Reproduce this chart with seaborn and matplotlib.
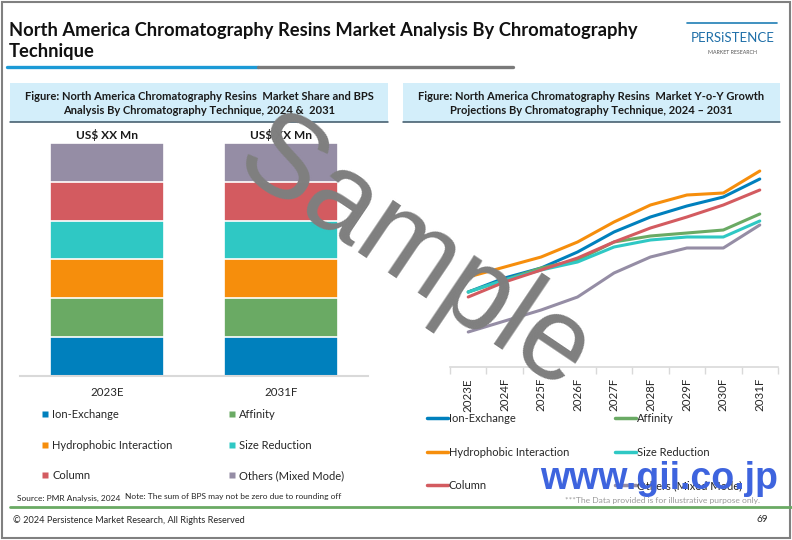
import numpy as np
import pandas as pd
import matplotlib.pyplot as plt
import seaborn as sns
from matplotlib.lines import Line2D
from matplotlib.patches import Rectangle

# ===============================
# DATA
# ===============================

segments = ["Ion-Exchange", "Affinity", "Hydrophobic Interaction",
            "Size Reduction", "Column", "Others (Mixed Mode)"]
seg_colors = ["#0080BD", "#6AAA64", "#F68E0C", "#2FC8C4", "#D35B60", "#958DA5"]

bar_years = ["2023E", "2031F"]
share_2023 = [16.7, 16.7, 16.6, 16.7, 16.6, 16.7]
share_2031 = [16.7, 16.7, 16.6, 16.7, 16.6, 16.7]

line_years = ["2023E", "2024F", "2025F", "2026F", "2027F",
              "2028F", "2029F", "2030F", "2031F"]
ion_exchange = [75, 89, 99, 115, 135, 150, 161, 170, 188]
affinity = [75, 87, 99, 107, 125, 131, 134, 137, 153]
hydrophobic = [90, 100, 110, 125, 145, 162, 172, 174, 196]
size_reduction = [75, 87, 97, 105, 120, 127, 130, 130, 146]
column = [70, 85, 97, 109, 125, 139, 150, 162, 177]
others = [35, 46, 57, 70, 94, 110, 119, 119, 142]

W, H = 792, 540


def box(l, t, r, b):
    return [l / W, 1 - b / H, (r - l) / W, (b - t) / H]


def fx(px):
    return px / W


def fy(py):
    return 1 - py / H


sns.set_theme(style="white")
plt.rcParams["font.family"] = ["Lato", "DejaVu Sans"]

fig = plt.figure(figsize=(7.92, 5.4), dpi=100)
fig.patch.set_facecolor("white")

# ===============================
# PAGE FRAME / TITLE
# ===============================

fig.patches.append(Rectangle((0.002, 0.003), 0.996, 0.994, transform=fig.transFigure,
                             fill=False, edgecolor="#808080", linewidth=1.5))

fig.text(fx(9), fy(31), "North America Chromatography Resins Market Analysis By Chromatography",
         fontsize=13.2, fontweight="bold", color="#111111", va="center", ha="left")
fig.text(fx(9), fy(52), "Technique",
         fontsize=13.2, fontweight="bold", color="#111111", va="center", ha="left")

fig.add_artist(Line2D([fx(7), fx(258)], [fy(67), fy(67)], color="#1B9AD6", lw=2.4))
fig.add_artist(Line2D([fx(258), fx(513)], [fy(67), fy(67)], color="#7A7A7A", lw=2.4))

# logo
fig.add_artist(Line2D([fx(687), fx(777)], [fy(23), fy(23)], color="#1F7EB5", lw=1.2))
fig.text(fx(733), fy(38), "PERSiSTENCE", fontsize=9.5, color="#1F6FA8",
         ha="center", va="center")
fig.text(fx(733), fy(52), "MARKET RESEARCH", fontsize=3.8, color="#555555",
         ha="center", va="center")

# panel headers
for l, r, lines in [(10, 388, ["Figure: North America Chromatography Resins  Market Share and BPS",
                               "Analysis By Chromatography Technique, 2024 &  2031"]),
                    (403, 780, ["Figure: North America Chromatography Resins  Market Y-o-Y Growth",
                                "Projections By Chromatography Technique, 2024 \u2013 2031"])]:
    fig.patches.append(Rectangle((fx(l), fy(122)), (r - l) / W, 39 / H, transform=fig.transFigure,
                                 facecolor="#D3EEFA", edgecolor="none"))
    fig.add_artist(Line2D([fx(l), fx(r)], [fy(122), fy(122)], color="#3B5566", lw=1.1))
    cx = (l + r) / 2
    fig.text(fx(cx), fy(96), lines[0], fontsize=8.0, fontweight="bold", color="#1A1A1A",
             ha="center", va="center")
    fig.text(fx(cx), fy(110), lines[1], fontsize=8.0, fontweight="bold", color="#1A1A1A",
             ha="center", va="center")

# ===============================
# STACKED BAR CHART
# ===============================

ax1 = fig.add_axes(box(20, 130, 368, 375.7))
shares = np.array([share_2023, share_2031])
cum = np.cumsum(shares, axis=1)

for i in range(len(segments) - 1, -1, -1):
    sns.barplot(x=bar_years, y=cum[:, i], color=seg_colors[i], saturation=1,
                width=0.66, edgecolor="white", linewidth=1.2, errorbar=None, ax=ax1)

ax1.set_xlim(-0.5, 1.5)
ax1.set_ylim(0, 105.6)
ax1.set_yticks([])
for s in ["top", "left", "right"]:
    ax1.spines[s].set_visible(False)
ax1.spines["bottom"].set_color("#D9D9D9")
ax1.spines["bottom"].set_linewidth(1.5)
ax1.tick_params(axis="x", length=0, pad=8, labelsize=8.3, labelcolor="#262626")
ax1.set_xlabel("")
ax1.set_ylabel("")
for i in range(len(bar_years)):
    ax1.text(i, cum[i, -1] + 1.0, "US$ XX Mn", ha="center", va="bottom",
             fontsize=8.6, fontweight="bold", color="#1A1A1A")

col1 = [0, 2, 4]
col2 = [1, 3, 5]
for cols, x0 in [(col1, 41), (col2, 228)]:
    hs = [Line2D([], [], marker="s", linestyle="none", markersize=4.5,
                 markerfacecolor=seg_colors[k], markeredgecolor="none") for k in cols]
    fig.legend(hs, [segments[k] for k in cols], frameon=False, loc="upper left",
               bbox_to_anchor=(fx(x0), fy(409)), fontsize=8.0, borderpad=0,
               borderaxespad=0, labelspacing=1.77, handlelength=0.75, handletextpad=0.25,
               labelcolor="#262626")

# ===============================
# LINE CHART
# ===============================

series_values = [ion_exchange, affinity, hydrophobic, size_reduction, column, others]
line_df = pd.DataFrame({
    "year": line_years * len(segments),
    "value": np.concatenate(series_values),
    "series": np.repeat(segments, len(line_years)),
})

ax2 = fig.add_axes(box(450, 130, 778, 367))
sns.lineplot(data=line_df, x="year", y="value", hue="series", hue_order=segments,
             palette=dict(zip(segments, seg_colors)), linewidth=2.2, sort=False,
             legend=False, ax=ax2)
ax2.set_xlim(-0.5, 8.5)
ax2.set_ylim(0, 237)
ax2.set_yticks([])
for s in ["top", "left", "right"]:
    ax2.spines[s].set_visible(False)
ax2.spines["bottom"].set_color("#D9D9D9")
ax2.spines["bottom"].set_linewidth(1.2)
ax2.set_xticks(range(len(line_years)))
ax2.set_xticklabels(line_years, rotation=90)
ax2.set_xticks(np.arange(-0.5, len(line_years), 1), minor=True)
ax2.tick_params(axis="x", which="major", length=0, pad=8, labelsize=8.3, labelcolor="#262626")
ax2.tick_params(axis="x", which="minor", length=5, width=1, color="#D9D9D9", bottom=True)
ax2.set_xlabel("")
ax2.set_ylabel("")

for cols, x0 in [(col1, 427), (col2, 615)]:
    hs = [Line2D([], [], color=seg_colors[k], lw=2.5) for k in cols]
    fig.legend(hs, [segments[k] for k in cols], frameon=False, loc="upper left",
               bbox_to_anchor=(fx(x0), fy(413)), fontsize=8.0, borderpad=0,
               borderaxespad=0, labelspacing=2.04, handlelength=1.9, handletextpad=0.05,
               labelcolor="#262626")

# ===============================
# FOOTER
# ===============================

fig.text(fx(17), fy(498), "Source: PMR Analysis, 2024", fontsize=6.0, color="#262626", va="center")
fig.text(fx(125), fy(497), "Note: The sum of BPS may not be zero due to rounding off",
         fontsize=6.0, color="#262626", va="center")
fig.text(fx(760), fy(501), "***The Data provided is for illustrative purpose only.",
         fontsize=6.1, color="#9A9A9A", va="center", ha="right")
fig.add_artist(Line2D([fx(10), fx(792)], [fy(507), fy(507)], color="#6AAA64", lw=2))
fig.text(fx(13), fy(520), "\u00a9 2024 Persistence Market Research, All Rights Reserved",
         fontsize=6.6, color="#262626", va="center")
fig.text(fx(762), fy(520), "69", fontsize=7.2, color="#262626", va="center", ha="center")

# ===============================
# WATERMARKS
# ===============================

fig.text(fx(414), fy(257), "Sample", fontsize=85, color="#7F7F7F", rotation=-34,
         ha="center", va="center", rotation_mode="anchor", zorder=20,
         family=["Liberation Sans", "DejaVu Sans"])
fig.text(fx(659), fy(479), "www.gii.co.jp", fontsize=27, fontweight="bold", color="#3E64DE",
         ha="center", va="center", zorder=20, family=["Liberation Sans", "DejaVu Sans"])

fig.savefig("out.png", dpi=100)
plt.close(fig)
